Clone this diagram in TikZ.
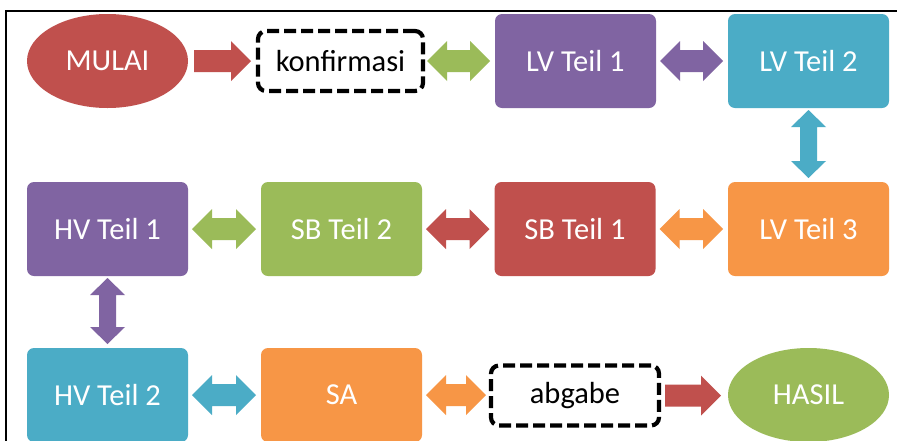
\documentclass[tikz,border=0pt]{standalone}
\usepackage{fontspec}
\setmainfont{Carlito}
\usetikzlibrary{shapes.geometric,calc}
\definecolor{cred}{HTML}{C0504D}
\definecolor{cpurple}{HTML}{8064A2}
\definecolor{cblue}{HTML}{4BACC6}
\definecolor{corange}{HTML}{F79646}
\definecolor{cgreen}{HTML}{9BBB59}
\tikzset{
  x=1pt, y=-1pt,
  lbl/.style={font=\fontsize{30.5}{36}\selectfont},
  box/.style={lbl, rectangle, rounded corners=7pt, minimum width=161pt, minimum height=94pt, text=white, inner sep=0pt, outer sep=0pt},
  oval/.style={lbl, ellipse, minimum width=161pt, minimum height=94pt, text=white, inner sep=0pt, outer sep=0pt},
  dbox/.style={lbl, rectangle, draw=black, line width=4.2pt, dash pattern=on 12pt off 5pt, rounded corners=8pt, minimum height=60pt, text=black, inner sep=0pt, outer sep=0pt},
  frame/.style={line width=1.6pt, black}
}
\newcommand\hdbl[3]{%
  \fill[#1] let \p1=($(#2.east)+(4pt,0)$), \p2=($(#3.west)-(5pt,0)$) in
  (\x1,\y1) -- ++(20pt,20pt) -- ++(0,-9pt) -- (\x2-20pt,\y1+11pt) -- ++(0,9pt)
  -- (\x2,\y1) -- ++(-20pt,-20pt) -- ++(0,9pt) -- (\x1+20pt,\y1-11pt) -- ++(0,-9pt) -- cycle;}
\newcommand\sarr[3]{%
  \fill[#1] let \p1=($(#2.east)+(6pt,0)$), \p2=($(#3.west)-(7pt,0)$) in
  (\x1,\y1+11pt) -- (\x2-20pt,\y1+11pt) -- ++(0,9pt) -- (\x2,\y1)
  -- ++(-20pt,-20pt) -- ++(0,9pt) -- (\x1,\y1-11pt) -- cycle;}
\newcommand\vdbl[3]{%
  \fill[#1] let \p1=($(#2.south)-(0,2pt)$), \p2=($(#3.north)+(0,4pt)$) in
  (\x1,\y1) -- ++(17.5pt,-17pt) -- ++(-9pt,0) -- (\x1+8.5pt,\y2+17pt) -- ++(9pt,0)
  -- (\x1,\y2) -- ++(-17.5pt,17pt) -- ++(9pt,0) -- (\x1-8.5pt,\y1-17pt) -- ++(-9pt,0) -- cycle;}
\begin{document}
\begin{tikzpicture}
\useasboundingbox (0,0) rectangle (897,440);
\fill[white] (0,0) rectangle (897,440);
\draw[frame] (6,445) -- (6,11) -- (900,11);
% row 1
\node[oval, fill=cred] (mulai) at (107.5,61) {MULAI};
\node[dbox, minimum width=165pt] (konf) at (340.5,61) {konfirmasi};
\node[box, fill=cpurple] (lv1) at (575.5,61) {LV Teil 1};
\node[box, fill=cblue] (lv2) at (808.5,61) {LV Teil 2};
% row 2
\node[box, fill=cpurple] (hv1) at (107.5,229) {HV Teil 1};
\node[box, fill=cgreen] (sb2) at (341.5,229) {SB Teil 2};
\node[box, fill=cred] (sb1) at (575,229) {SB Teil 1};
\node[box, fill=corange] (lv3) at (808.5,229) {LV Teil 3};
% row 3
\node[box, fill=cblue] (hv2) at (107.5,395) {HV Teil 2};
\node[box, fill=corange] (sa) at (341.5,395) {SA};
\node[dbox, minimum width=168pt] (abg) at (575,395.5) {abgabe};
\node[oval, fill=cgreen] (hasil) at (808.5,395) {HASIL};
% connectors
\sarr{cred}{mulai}{konf}
\hdbl{cgreen}{konf}{lv1}
\hdbl{cpurple}{lv1}{lv2}
\vdbl{cblue}{lv2}{lv3}
\hdbl{corange}{sb1}{lv3}
\hdbl{cred}{sb2}{sb1}
\hdbl{cgreen}{hv1}{sb2}
\vdbl{cpurple}{hv1}{hv2}
\hdbl{cblue}{hv2}{sa}
\hdbl{corange}{sa}{abg}
\sarr{cred}{abg}{hasil}
\end{tikzpicture}
\end{document}
